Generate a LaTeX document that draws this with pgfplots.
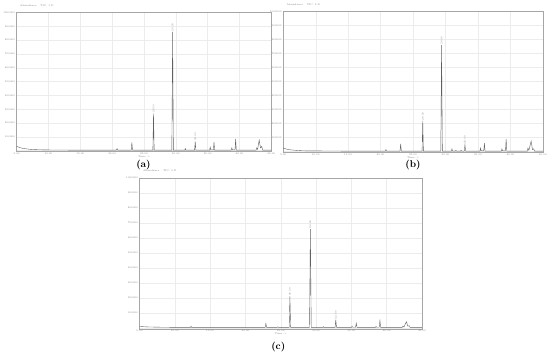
\documentclass[border=0pt]{standalone}
\usepackage{pgfplots}
\pgfplotsset{compat=1.18}

\pgfplotsset{
  chrom/.style={
    scale only axis,
    xmin=5, xmax=45, ymin=-0.05, ymax=10,
    xtick={5,10,...,45},
    xticklabels={5.00,10.00,15.00,20.00,25.00,30.00,35.00,40.00,45.00},
    ytick={0,1,...,10},
    yticklabels={,100000,200000,300000,400000,500000,600000,700000,800000,900000,1000000},
    grid=major,
    major grid style={gray!15, line width=0.3pt},
    axis line style={gray!70, line width=0.4pt},
    tick style={draw=none},
    tick label style={font=\fontsize{2.5pt}{3pt}\selectfont, text=gray},
    xticklabel style={yshift=2pt},
    yticklabel style={xshift=2pt},
    xlabel={Time-->},
    xlabel style={font=\fontsize{2.5pt}{3pt}\selectfont, text=gray, yshift=6pt},
    title style={font=\fontsize{2.5pt}{3pt}\selectfont, text=gray, at={(0,1)}, anchor=south west, yshift=-3pt},
    clip=false,
  },
  trace/.style={color=gray!75!black, line width=0.4pt},
}
\tikzset{pk/.style={font=\fontsize{2.5pt}{3pt}\selectfont, text=gray, rotate=90, anchor=west, inner sep=0.5pt}}

\begin{document}
\begin{tikzpicture}
\path (0pt,0pt) rectangle (550pt,356pt);

% (a)
\begin{axis}[chrom, at={(12pt,205pt)}, anchor=south west, width=257pt, height=140pt,
  title={Abundance \quad TIC: 1.D}]
\addplot[trace] coordinates {
(5,0.31)(5.5,0.22)(6,0.16)(7,0.1)(8,0.07)(10,0.05)(14,0.04)(20.68,0.04)(20.78,0.15)(20.88,0.04)
(23.0,0.04)(23.1,0.6)(23.2,0.04)(26.4,0.04)(26.5,2.7)(26.6,0.04)(29.38,0.04)(29.5,8.6)(29.62,0.04)
(31.42,0.04)(31.5,0.15)(31.58,0.04)(32.95,0.04)(33.05,0.67)(33.15,0.04)(35.32,0.04)(35.4,0.25)(35.5,0.06)
(35.9,0.05)(36.0,0.62)(36.1,0.04)(38.72,0.04)(38.8,0.2)(38.88,0.06)(39.3,0.05)(39.4,0.86)(39.5,0.04)
(42.62,0.04)(42.7,0.2)(42.85,0.1)(43.1,0.77)(43.3,0.2)(43.5,0.3)(43.65,0.04)(45,0.04)
};
\node[pk] at (axis cs:29.5,8.6) {29.50};
\node[pk] at (axis cs:26.5,2.7) {26.50};
\node[pk] at (axis cs:33.05,0.67) {33.05};
\end{axis}
\node[font=\bfseries] at (140pt,191pt) {(a)};

% (b)
\begin{axis}[chrom, at={(281pt,204pt)}, anchor=south west, width=262pt, height=142pt,
  title={Abundance \quad TIC: 2.D}]
\addplot[trace] coordinates {
(5,0.25)(5.5,0.18)(6,0.13)(7,0.09)(8,0.06)(10,0.05)(14,0.04)(20.75,0.04)(20.83,0.15)(20.91,0.04)
(23.0,0.04)(23.1,0.55)(23.2,0.04)(26.4,0.04)(26.5,2.2)(26.6,0.04)(29.28,0.04)(29.4,7.6)(29.52,0.04)
(30.92,0.04)(31.0,0.2)(31.08,0.04)(31.52,0.04)(31.6,0.1)(31.68,0.04)(32.32,0.04)(32.4,0.1)(32.48,0.04)
(32.9,0.04)(33.0,0.5)(33.1,0.04)(35.32,0.04)(35.4,0.25)(35.5,0.06)(35.9,0.05)(36.0,0.6)(36.1,0.04)
(38.62,0.04)(38.7,0.2)(38.78,0.06)(39.25,0.05)(39.35,0.9)(39.45,0.04)(42.62,0.04)(42.7,0.25)(42.85,0.1)
(43.2,0.75)(43.4,0.15)(43.6,0.2)(43.72,0.04)(45,0.04)
};
\node[pk] at (axis cs:29.4,7.6) {29.40};
\node[pk] at (axis cs:26.5,2.2) {26.50};
\node[pk] at (axis cs:33.0,0.5) {33.00};
\end{axis}
\node[font=\bfseries] at (412pt,191pt) {(b)};

% (c)
\begin{axis}[chrom, at={(136pt,26pt)}, anchor=south west, width=285pt, height=152pt,
  title={Abundance \quad TIC: 3.D}]
\addplot[trace] coordinates {
(5,0.1)(6,0.07)(8,0.05)(10,0.04)(12.22,0.04)(12.3,0.12)(12.38,0.04)(22.8,0.04)(22.9,0.3)(23.0,0.04)
(24.52,0.04)(24.6,0.08)(24.68,0.04)(26.2,0.04)(26.3,2.1)(26.4,0.04)(29.08,0.04)(29.2,6.6)(29.32,0.04)
(30.98,0.04)(31.06,0.08)(31.14,0.04)(32.7,0.04)(32.8,0.55)(32.9,0.04)(35.02,0.04)(35.1,0.12)(35.18,0.05)
(35.6,0.05)(35.7,0.32)(35.8,0.04)(38.42,0.04)(38.5,0.1)(38.58,0.05)(38.95,0.05)(39.05,0.5)(39.15,0.04)
(42.22,0.04)(42.3,0.12)(42.45,0.06)(42.8,0.42)(43.0,0.12)(43.2,0.15)(43.32,0.04)(45,0.04)
};
\node[pk] at (axis cs:29.2,6.6) {29.20};
\node[pk] at (axis cs:26.3,2.1) {26.30};
\node[pk] at (axis cs:32.8,0.55) {32.80};
\end{axis}
\node[font=\bfseries] at (276pt,8pt) {(c)};
\end{tikzpicture}
\end{document}
